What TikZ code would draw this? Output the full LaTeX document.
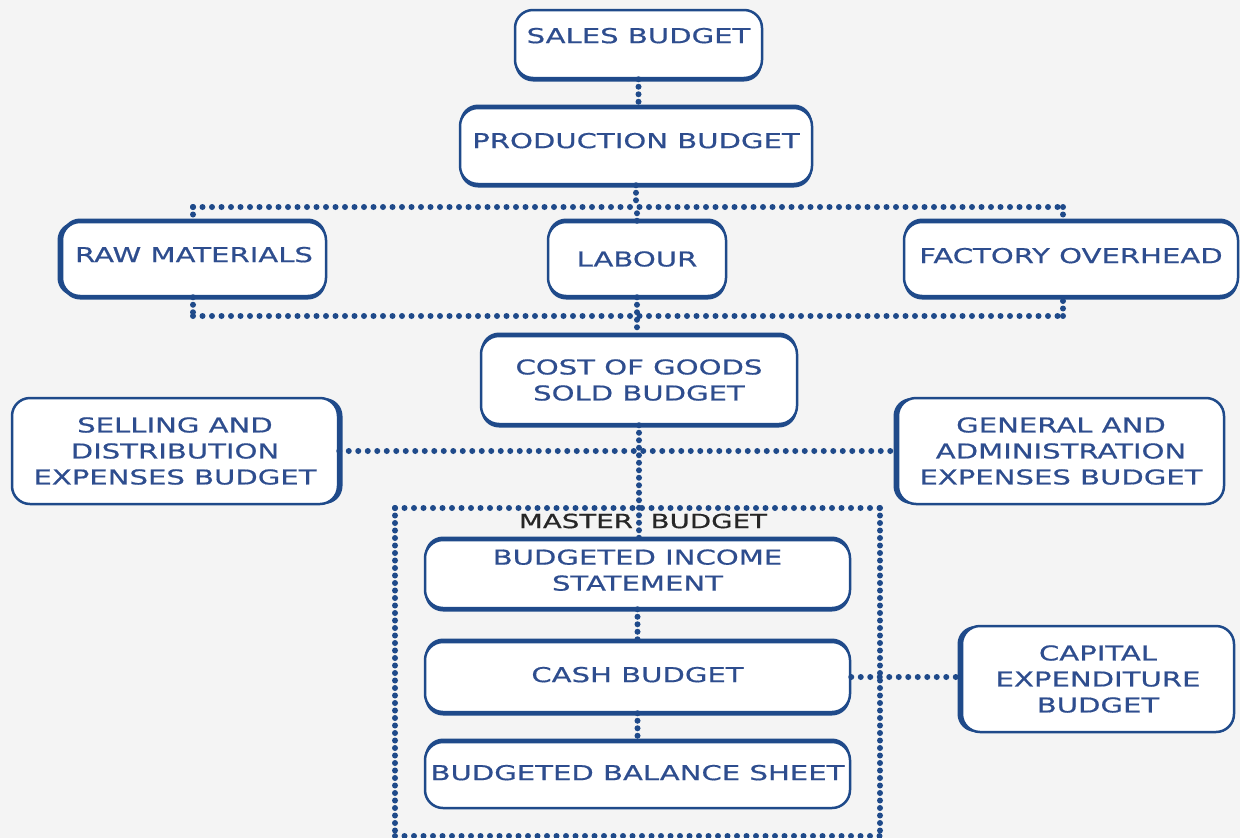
\documentclass[tikz,border=0pt]{standalone}
\usepackage{fontspec}
\setmainfont{DejaVu Sans}[FakeStretch=1.42, FakeBold=0.6]
\usetikzlibrary{shadows}
\definecolor{bblue}{HTML}{1F4A8A}
\definecolor{tblue}{HTML}{2E4D8E}
\definecolor{bg}{HTML}{F4F4F4}
\begin{document}
\begin{tikzpicture}[x=1pt,y=-1pt,
 box/.style={draw=bblue, line width=2.5pt, fill=white, rounded corners=18pt, text=tblue, align=center, font=\fontsize{20.5}{26}\selectfont, inner sep=0pt},
 thb/.style={general shadow={shadow yshift=-3.5pt, fill=bblue}},
 tht/.style={general shadow={shadow yshift=3.5pt, fill=bblue}},
 thl/.style={general shadow={shadow xshift=-4.5pt, fill=bblue}},
 thr/.style={general shadow={shadow xshift=4.5pt, fill=bblue}},
 dots/.style={draw=bblue, line width=6pt, line cap=round, dash pattern=on 0pt off 9.5pt},
 vdots/.style={draw=bblue, line width=6pt, line cap=round, dash pattern=on 0pt off 7.5pt},
]
\fill[bg] (0,0) rectangle (1240,838);
\useasboundingbox (0,0) rectangle (1240,838);

% master budget frame
\draw[dots] (395,508) -- (880,508);
\draw[dots] (395,836) -- (880,836);
\draw[vdots] (395,508) -- (395,836);
\draw[vdots] (880,508) -- (880,836);
\node[font=\fontsize{19.5}{22}\selectfont, text=black!85] (mlabel) at (643,521) {MASTER\ \ BUDGET};

\node[box, thb, minimum width=247pt, minimum height=68pt, text depth=17pt] (sales) at (638.5,44) {SALES BUDGET};
\node[box, thb, tht, minimum width=352pt, minimum height=76pt, text depth=11pt] (prod) at (636,146) {PRODUCTION BUDGET};
\node[box, thb, tht, thl, minimum width=264pt, minimum height=74pt, text depth=9pt] (raw) at (194,259) {RAW MATERIALS};
\node[box, thb, tht, minimum width=178pt, minimum height=74pt] (labour) at (637,259) {LABOUR};
\node[box, thb, tht, minimum width=334pt, minimum height=74pt, text depth=7pt] (factory) at (1071,259) {FACTORY OVERHEAD};
\node[box, thb, tht, minimum width=316pt, minimum height=88pt] (cogs) at (639,380) {COST OF GOODS\\SOLD BUDGET};
\node[box, thr, minimum width=326pt, minimum height=106pt] (sell) at (175,451) {SELLING AND\\DISTRIBUTION\\EXPENSES BUDGET};
\node[box, thl, minimum width=326pt, minimum height=106pt] (gen) at (1061,451) {GENERAL AND\\ADMINISTRATION\\EXPENSES BUDGET};
\node[box, thb, tht, minimum width=425pt, minimum height=68pt, text depth=8pt] (income) at (637.5,574) {BUDGETED INCOME\\STATEMENT};
\node[box, thb, tht, minimum width=425pt, minimum height=70pt, text depth=5pt] (cash) at (637.5,677) {CASH BUDGET};
\node[box, tht, minimum width=425pt, minimum height=66pt, text depth=5pt] (bal) at (637.5,775) {BUDGETED BALANCE SHEET};
\node[box, thl, minimum width=272pt, minimum height=106pt] (capex) at (1098,679) {CAPITAL\\EXPENDITURE\\BUDGET};

\coordinate (t1) at (193,207);
\coordinate (t2) at (1063,207);
\coordinate (b1) at (193,316);
\coordinate (b2) at (1063,316);

\draw[vdots] (sales.south) -- (sales.south |- prod.north);
\draw[vdots] (prod.south) -- (prod.south |- t1);
\draw[dots] (t1) -- (t2);
\draw[vdots] (t1) -- (t1 |- raw.north);
\draw[vdots] (labour.north) -- (labour.north |- t1);
\draw[vdots] (t2) -- (t2 |- factory.north);
\draw[vdots] (raw.south -| b1) -- (b1);
\draw[dots] (b1) -- (b2);
\draw[vdots] (b2) -- (factory.south -| b2);
\draw[vdots] (labour.south) -- (labour.south |- cogs.north);
\draw[dots] (sell.east) -- (sell.east -| gen.west);
\draw[vdots] (cogs.south) -- (cogs.south |- income.north);
\draw[vdots] (income.south) -- (cash.north);
\draw[vdots] (cash.south) -- (bal.north);
\draw[dots] (cash.east) -- (cash.east -| capex.west);
\end{tikzpicture}
\end{document}
